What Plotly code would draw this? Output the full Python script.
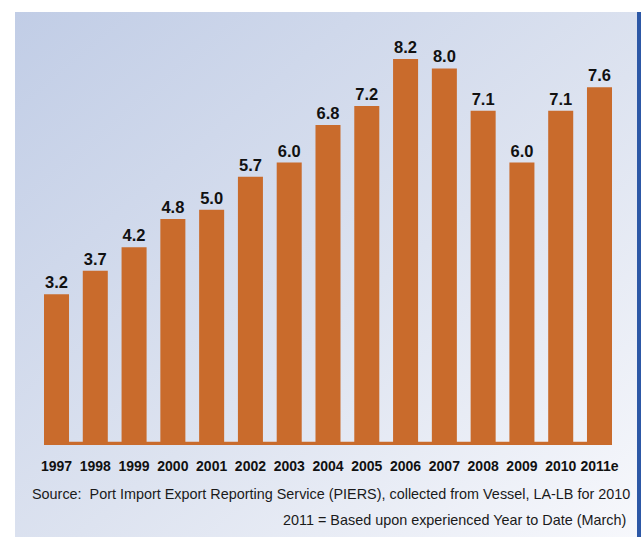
import base64
import plotly.graph_objects as go

years = ["1997", "1998", "1999", "2000", "2001", "2002", "2003", "2004",
         "2005", "2006", "2007", "2008", "2009", "2010", "2011e"]
values = [3.2, 3.7, 4.2, 4.8, 5.0, 5.7, 6.0, 6.8, 7.2, 8.2, 8.0, 7.1, 6.0, 7.1, 7.6]
labels = [f"{v:.1f}" for v in values]
source_lines = [
    "Source:  Port Import Export Reporting Service (PIERS), collected from Vessel, LA-LB for 2010",
    "2011 = Based upon experienced Year to Date (March)",
]

BAR = "#c96b2c"
W, H = 641, 537
bar_w = 0.645

svg = f'''<svg xmlns="http://www.w3.org/2000/svg" width="{W}" height="{H}" viewBox="0 0 {W} {H}" preserveAspectRatio="none">
<defs><linearGradient id="g" x1="0" y1="0" x2="1" y2="1">
<stop offset="0" stop-color="#c1cde6"/><stop offset="0.55" stop-color="#dde3f0"/><stop offset="1" stop-color="#f7f8fc"/>
</linearGradient></defs>
<rect x="0" y="0" width="{W}" height="{H}" fill="white"/>
<rect x="15" y="12" width="{W-15}" height="{H-12}" fill="url(#g)"/>
<rect x="637" y="12" width="4" height="{H-12}" fill="#2d58a6"/>
</svg>'''
bg = "data:image/svg+xml;base64," + base64.b64encode(svg.encode()).decode()

FONT = "Liberation Sans, Arial, sans-serif"

fig = go.Figure(go.Bar(
    x=years, y=values, text=labels, textposition="outside",
    marker=dict(color=BAR, line=dict(width=0)), width=bar_w,
    textfont=dict(family=FONT, size=16.5, color="#111111", weight="bold"),
    cliponaxis=False, hoverinfo="skip",
))

fig.add_shape(type="rect", xref="paper", yref="y", x0=0, x1=1, y0=0, y1=0.07,
              fillcolor=BAR, line=dict(width=0), layer="above")

ml, mr, mt, mb = 44, 29, 19, 92
pw = W - ml - mr
ph = H - mt - mb

fig.add_layout_image(dict(source=bg, xref="paper", yref="paper",
                          x=-ml / pw, y=1 + mt / ph, sizex=W / pw, sizey=H / ph,
                          xanchor="left", yanchor="top",
                          sizing="stretch", layer="below"))

fig.add_annotation(text=source_lines[0], xref="paper", yref="paper",
                   x=(632 - ml) / pw, y=-(494 - (H - mb)) / ph, xanchor="right", yanchor="middle",
                   showarrow=False, font=dict(family=FONT, size=14.4, color="#1a1a1a"))
fig.add_annotation(text=source_lines[1], xref="paper", yref="paper",
                   x=(628 - ml) / pw, y=-(520 - (H - mb)) / ph, xanchor="right", yanchor="middle",
                   showarrow=False, font=dict(family=FONT, size=14.4, color="#1a1a1a"))

fig.update_layout(
    width=W, height=H,
    margin=dict(l=ml, r=mr, t=mt, b=mb),
    paper_bgcolor="rgba(0,0,0,0)", plot_bgcolor="rgba(0,0,0,0)",
    showlegend=False,
    xaxis=dict(type="category", range=[-bar_w / 2, len(years) - 1 + bar_w / 2],
               showgrid=False, zeroline=False, showline=False, ticks="",
               ticklabelstandoff=11, tickangle=0,
               tickfont=dict(family=FONT, size=14, color="#111111", weight="bold")),
    yaxis=dict(range=[0, 9.05], visible=False, showgrid=False, zeroline=False),
)

fig.write_html("out.html", config={"displayModeBar": False},
               post_script="document.body.style.margin='0';document.body.style.overflow='hidden';")
